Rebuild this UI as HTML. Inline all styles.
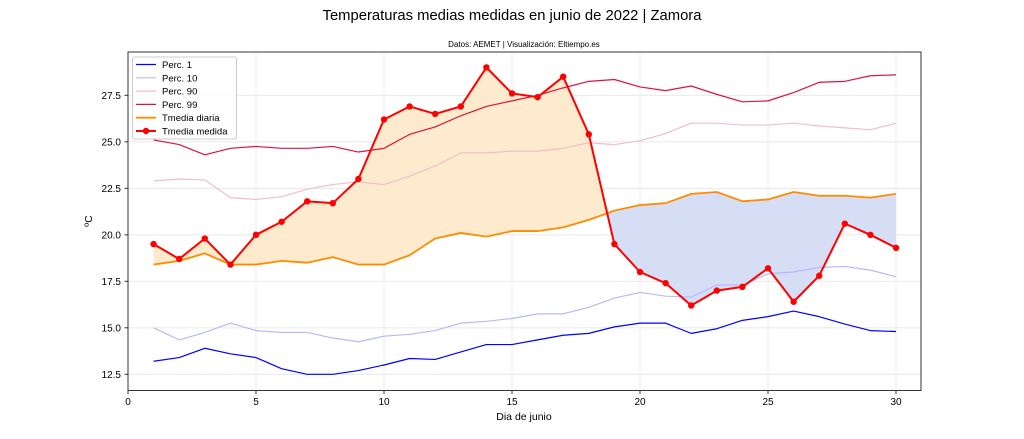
<!DOCTYPE html>
<html><head><meta charset="utf-8"><style>
body{margin:0;background:#fff;}
svg{display:block;font-family:"Liberation Sans","DejaVu Sans",sans-serif;}
</style></head><body>
<svg id="s" width="1024" height="439" xmlns="http://www.w3.org/2000/svg">
<text x="512" y="20" text-anchor="middle" font-size="14.8">Temperaturas medias medidas en junio de 2022 | Zamora</text>
<text x="524" y="47" text-anchor="middle" font-size="8">Datos: AEMET | Visualización: Eltiempo.es</text>
<text x="524" y="420" text-anchor="middle" font-size="10.5">Dia de junio</text>
<text transform="translate(92,221) rotate(-90)" text-anchor="middle" font-size="10.5">ºC</text>
<g id="g"></g>
</svg>
<script>
const X=d=>128+d*25.6, Y=v=>95.3+(27.5-v)*18.6;
const med=[19.5,18.7,19.8,18.4,20,20.7,21.8,21.7,23,26.2,26.9,26.5,26.9,29,27.6,27.4,28.5,25.4,19.5,18,17.4,16.2,17,17.2,18.2,16.4,17.8,20.6,20,19.3];
const dia=[18.4,18.6,19,18.4,18.4,18.6,18.5,18.8,18.4,18.4,18.9,19.8,20.1,19.9,20.2,20.2,20.4,20.8,21.3,21.6,21.7,22.2,22.3,21.8,21.9,22.3,22.1,22.1,22,22.2];
const p1=[13.2,13.4,13.9,13.6,13.4,12.8,12.5,12.5,12.7,13,13.35,13.3,13.7,14.1,14.1,14.35,14.6,14.7,15.05,15.25,15.25,14.7,14.95,15.4,15.6,15.9,15.6,15.2,14.85,14.8];
const p10=[15,14.35,14.75,15.25,14.85,14.75,14.75,14.45,14.25,14.55,14.65,14.85,15.25,15.35,15.5,15.75,15.75,16.1,16.6,16.9,16.7,16.65,17.3,17.3,17.9,18,18.25,18.3,18.1,17.75];
const p90=[22.9,23,22.95,22,21.9,22.05,22.45,22.7,22.85,22.7,23.15,23.7,24.4,24.4,24.5,24.5,24.65,24.95,24.85,25.05,25.45,26,26,25.9,25.9,26,25.85,25.75,25.65,26];
const p99=[25.1,24.85,24.3,24.65,24.75,24.65,24.65,24.75,24.45,24.65,25.4,25.8,26.4,26.9,27.2,27.5,27.9,28.25,28.35,27.95,27.75,28,27.55,27.15,27.2,27.65,28.2,28.25,28.55,28.6];
let h='';
for(let d=0;d<=30;d+=5)h+=`<line x1="${X(d)}" y1="52" x2="${X(d)}" y2="390.5" stroke="#e6e6e6" stroke-width="0.8"/>`;
for(let v=12.5;v<=27.5;v+=2.5)h+=`<line x1="128" y1="${Y(v)}" x2="921" y2="${Y(v)}" stroke="#e6e6e6" stroke-width="0.8"/>`;
function fills(cond,color){
  let segs=[],cur=null;
  for(let i=0;i<30;i++){
    const d=med[i]-dia[i];
    if(cond(d)||(d===0)){ if(!cur){cur=[];if(i>0){const d0=med[i-1]-dia[i-1];if(d0!==0&&!cond(d0)){const t=d0/(d0-d);cur.push([i+t,dia[i-1]+t*(dia[i]-dia[i-1])]);}}} cur.push([i+1,i]); }
    else{ if(cur){const d0=med[i-1]-dia[i-1];if(d0!==0){const t=d0/(d0-d);cur.push([i+t,dia[i-1]+t*(dia[i]-dia[i-1])]);}segs.push(cur);cur=null;} }
  }
  if(cur)segs.push(cur);
  segs.forEach(s=>{
    let top=[],bot=[];
    s.forEach(p=>{ if(Number.isInteger(p[1])&&p[0]===p[1]+1){top.push([X(p[0]),Y(med[p[1]])]);bot.push([X(p[0]),Y(dia[p[1]])]);} else {top.push([X(p[0]),Y(p[1])]);bot.push([X(p[0]),Y(p[1])]);} });
    const pts=top.concat(bot.reverse()).map(p=>p.join(',')).join(' ');
    h+=`<polygon points="${pts}" fill="${color}"/>`;
  });
}
fills(d=>d>0,'#feeacc');
fills(d=>d<0,'#d6def6');
const line=(a,c,w)=>`<polyline fill="none" stroke="${c}" stroke-width="${w}" stroke-linejoin="round" points="${a.map((v,i)=>X(i+1)+','+Y(v)).join(' ')}"/>`;
h+=line(p1,'#0000ff',1.2)+line(p10,'#b8b8ff',1.2)+line(p90,'#f4bccb',1.2)+line(p99,'#dc143c',1.2)+line(dia,'#ff8c00',1.8)+line(med,'#ff0000',2);
med.forEach((v,i)=>h+=`<circle cx="${X(i+1)}" cy="${Y(v)}" r="3.2" fill="#ff0000"/>`);
h+=`<rect x="128" y="52" width="793" height="338.5" fill="none" stroke="#333" stroke-width="1"/>`;
for(let d=0;d<=30;d+=5)h+=`<line x1="${X(d)}" y1="390.5" x2="${X(d)}" y2="394" stroke="#333"/><text x="${X(d)}" y="405" font-size="10" text-anchor="middle">${d}</text>`;
for(let v=12.5;v<=27.5;v+=2.5)h+=`<line x1="124.5" y1="${Y(v)}" x2="128" y2="${Y(v)}" stroke="#333"/><text x="121" y="${Y(v)+3.5}" font-size="10" text-anchor="end">${v.toFixed(1)}</text>`;
h+=`<rect x="132.5" y="57" width="104" height="82" rx="2" fill="#fff" fill-opacity="0.85" stroke="#ccc"/>`;
const L=[['Perc. 1','#0000ff',1.2],['Perc. 10','#b8b8ff',1.2],['Perc. 90','#f4bccb',1.2],['Perc. 99','#dc143c',1.2],['Tmedia diaria','#ff8c00',1.8],['Tmedia medida','#ff0000',2]];
L.forEach((l,i)=>{const y=64.5+i*13.3;h+=`<line x1="136" y1="${y}" x2="156" y2="${y}" stroke="${l[1]}" stroke-width="${l[2]}"/><text x="162" y="${y+3.5}" font-size="9.5">${l[0]}</text>`;if(i==5)h+=`<circle cx="146" cy="${y}" r="3.2" fill="#ff0000"/>`;});
document.getElementById('g').innerHTML=h;
</script>
</body></html>
